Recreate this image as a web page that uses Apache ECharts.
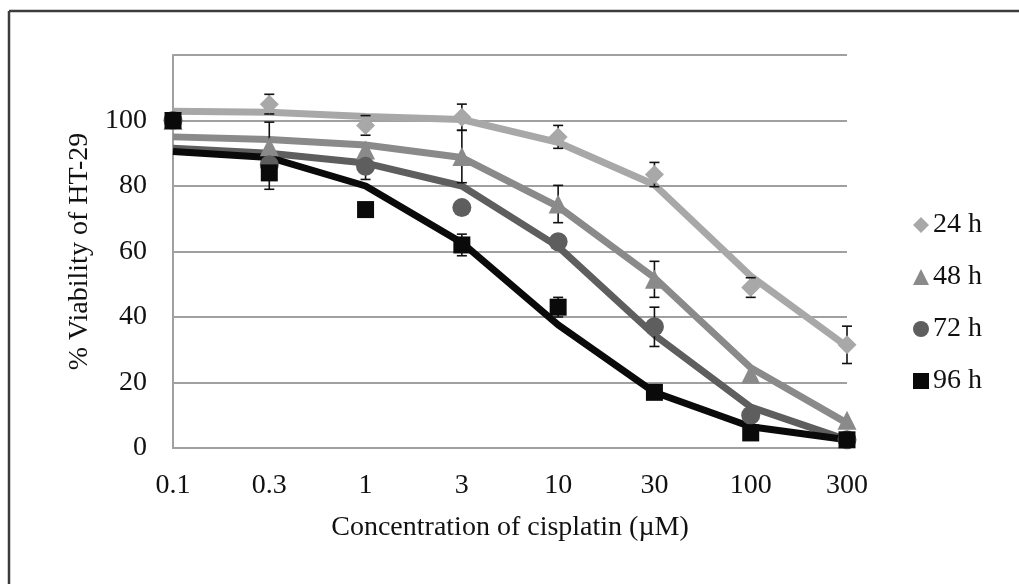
<!DOCTYPE html>
<html>
<head>
<meta charset="utf-8">
<script src="https://cdn.jsdelivr.net/npm/echarts@6/dist/echarts.min.js"></script>
<style>
  html, body { margin: 0; padding: 0; background: #fff; }
  #charts { width: 1019px; height: 584px; }
</style>
</head>
<body>
<div id="charts"></div>
<script>
// concentrations (µM) on an evenly spaced axis
const conc = ['0.1', '0.3', '1', '3', '10', '30', '100', '300']
const yTicks = [0, 20, 40, 60, 80, 100, 120]

// measured means
const mean24 = [100, 105, 98.5, 101, 95, 83.5, 49, 31.5]
const mean48 = [100, 92, 91, 89, 74.5, 51.5, 22.5, 8.5]
const mean72 = [100, 86.5, 86, 73.4, 63, 37, 10, 2.5]
const mean96 = [100, 84, 72.8, 62, 43, 17, 4.6, 2.5]

// standard deviations
const sd24 = [0, 3, 3, 4, 3.5, 3.7, 3, 5.7]
const sd48 = [0, 7.5, 0, 8, 5.7, 5.5, 0, 0]
const sd72 = [0, 0, 4, 0, 0, 6, 0, 0]
const sd96 = [0, 5, 0, 3.3, 3, 0, 0, 0]

// fitted curves
const fit24 = [102.8, 102.5, 101.2, 100.3, 93.3, 80.4, 52.5, 31]
const fit48 = [95, 94.2, 92.5, 88.7, 73.7, 52, 24.5, 7.6]
const fit72 = [91.5, 90, 87, 80, 61.5, 34.5, 12.5, 2.5]
const fit96 = [90.5, 88.7, 80, 62.7, 37.6, 17, 6.5, 2.5]

const groups = [
  { name: '24 h', mean: mean24, sd: sd24, fit: fit24, color: '#a8a8a8', symbol: 'diamond', size: 19 },
  { name: '48 h', mean: mean48, sd: sd48, fit: fit48, color: '#8a8a8a', symbol: 'triangle', size: 19 },
  { name: '72 h', mean: mean72, sd: sd72, fit: fit72, color: '#5e5e5e', symbol: 'circle', size: 19 },
  { name: '96 h', mean: mean96, sd: sd96, fit: fit96, color: '#0a0a0a', symbol: 'rect', size: 17 }
]

const font = '"Liberation Serif", "Times New Roman", serif'
const fs = 28

function errorBars(g) {
  const data = []
  g.mean.forEach((m, i) => {
    if (g.sd[i] > 0) data.push([i, m - g.sd[i], m + g.sd[i]])
  })
  return {
    type: 'custom',
    name: g.name + ' sd',
    z: 3,
    data: data,
    renderItem(params, api) {
      const lo = api.coord([api.value(0), api.value(1)])
      const hi = api.coord([api.value(0), api.value(2)])
      const w = 5
      const style = { stroke: '#111', lineWidth: 1.6 }
      return {
        type: 'group',
        children: [
          { type: 'line', shape: { x1: hi[0], y1: hi[1], x2: lo[0], y2: lo[1] }, style },
          { type: 'line', shape: { x1: hi[0] - w, y1: hi[1], x2: hi[0] + w, y2: hi[1] }, style },
          { type: 'line', shape: { x1: lo[0] - w, y1: lo[1], x2: lo[0] + w, y2: lo[1] }, style }
        ]
      }
    }
  }
}

const series = []
groups.forEach(g => {
  series.push({
    name: g.name + ' fit',
    type: 'line',
    data: g.fit,
    showSymbol: false,
    z: 2,
    lineStyle: { color: g.color, width: 7 },
    itemStyle: { color: g.color }
  })
})
groups.forEach(g => series.push(errorBars(g)))
groups.forEach(g => {
  series.push({
    name: g.name,
    type: 'scatter',
    data: g.mean,
    symbol: g.symbol,
    symbolSize: g.size,
    z: 4,
    itemStyle: { color: g.color, opacity: 1 }
  })
})

const charts = echarts.init(document.getElementById('charts'))
charts.setOption({
  animation: false,
  textStyle: { fontFamily: font },
  grid: { left: 173, right: 172, top: 55, bottom: 136 },
  legend: {
    data: groups.map(g => ({ name: g.name, icon: g.symbol })),
    orient: 'vertical',
    left: 908,
    top: 206,
    itemWidth: 16,
    itemHeight: 16,
    itemGap: 24,
    textStyle: { fontFamily: font, fontSize: fs, color: '#111', padding: [0, 0, 0, -1] }
  },
  xAxis: {
    type: 'category',
    data: conc,
    boundaryGap: false,
    name: 'Concentration of cisplatin (µM)',
    nameLocation: 'middle',
    nameGap: 66,
    nameTextStyle: { fontFamily: font, fontSize: fs, color: '#111' },
    axisLine: { lineStyle: { color: '#a0a0a0', width: 2 } },
    axisTick: { show: false },
    axisLabel: { fontFamily: font, fontSize: fs, color: '#111', margin: 24 },
    splitLine: { show: false }
  },
  yAxis: {
    type: 'value',
    min: 0,
    max: 120,
    interval: 20,
    name: '% Viability of HT-29',
    nameLocation: 'middle',
    nameGap: 76,
    nameTextStyle: { fontFamily: font, fontSize: fs, color: '#111' },
    axisLine: { show: true, lineStyle: { color: '#a0a0a0', width: 2 } },
    axisTick: { show: false },
    axisLabel: {
      fontFamily: font,
      fontSize: fs,
      color: '#111',
      margin: 26,
      formatter: v => (yTicks.indexOf(v) >= 0 && v < 120 ? String(v) : '')
    },
    splitLine: { lineStyle: { color: '#a0a0a0', width: 2 } }
  },
  graphic: [
    { type: 'line', shape: { x1: 9, y1: 11, x2: 1019, y2: 11 }, style: { stroke: '#3c3c3c', lineWidth: 2.5 } },
    { type: 'line', shape: { x1: 9, y1: 11, x2: 9, y2: 584 }, style: { stroke: '#3c3c3c', lineWidth: 2.5 } }
  ],
  series: series
})
</script>
</body>
</html>
